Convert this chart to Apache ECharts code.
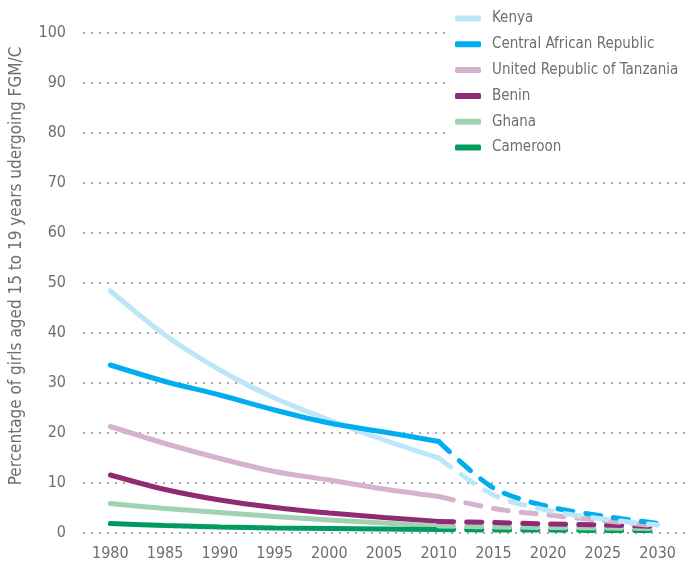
<!DOCTYPE html>
<html>
<head>
<meta charset="utf-8">
<script src="https://cdn.jsdelivr.net/npm/echarts@6/dist/echarts.min.js"></script>
<style>
  html, body { margin: 0; padding: 0; background: #fff; }
  #main { width: 688px; height: 568px; }
</style>
</head>
<body>
<div id="main"></div>
<script>
// years on the x axis
const years = ['1980', '1985', '1990', '1995', '2000', '2005', '2010', '2015', '2020', '2025', '2030']

// values, 1980-2030 (solid up to 2010, projection after)
const kenya = [48.4, 39.6, 32.6, 27, 22.6, 18.6, 15, 7.6, 4.5, 2.8, 1.6]
const car = [33.6, 30.3, 27.6, 24.6, 22, 20.2, 18.3, 9, 5.3, 3.4, 1.9]
const tanzania = [21.3, 17.9, 14.9, 12.3, 10.6, 8.8, 7.3, 4.9, 3.6, 2.5, 1.4]
const benin = [11.6, 8.7, 6.6, 5.1, 4, 3.1, 2.3, 2.1, 1.8, 1.6, 1.3]
const ghana = [5.9, 4.9, 4.1, 3.3, 2.6, 2, 1.4, 1.2, 1.1, 1, 0.9]
const cameroon = [1.9, 1.5, 1.2, 1, 0.9, 0.8, 0.7, 0.6, 0.6, 0.5, 0.5]

const countries = [
  { name: 'Kenya', data: kenya, color: '#bde6f8' },
  { name: 'Central African Republic', data: car, color: '#00aeef' },
  { name: 'United Republic of Tanzania', data: tanzania, color: '#d5b3cd' },
  { name: 'Benin', data: benin, color: '#912a75' },
  { name: 'Ghana', data: ghana, color: '#a1d1b3' },
  { name: 'Cameroon', data: cameroon, color: '#009b5f' }
]

const font = "'DejaVu Sans Condensed', 'Liberation Sans Narrow', sans-serif"
const grey = '#6d6e71'
const split = 6 // index of 2010

const series = []
countries.forEach(c => {
  series.push({
    name: c.name,
    type: 'line',
    smooth: 0.3,
    symbol: 'none',
    color: c.color,
    lineStyle: { width: 5, color: c.color, cap: 'round' },
    data: c.data.map((v, i) => (i <= split ? v : '-'))
  })
})
// projections drawn after, dashed
countries.slice().reverse().forEach(c => {
  series.push({
    name: c.name,
    type: 'line',
    smooth: 0.3,
    symbol: 'none',
    color: c.color,
    lineStyle: { width: 5, color: c.color, type: [15, 13], cap: 'round' },
    data: c.data.map((v, i) => (i >= split ? v : '-'))
  })
})

const myChart = echarts.init(document.getElementById('main'))
myChart.setOption({
  animation: false,
  textStyle: { fontFamily: font },
  grid: { left: 77, right: 3, top: 33, bottom: 35 },
  legend: {
    orient: 'vertical',
    left: 446,
    top: 7,
    padding: [4, 10, 4, 9],
    backgroundColor: '#fff',
    itemWidth: 26,
    itemHeight: 6,
    itemGap: 10.8,
    icon: 'roundRect',
    data: countries.map(c => c.name),
    textStyle: { color: grey, fontSize: 15, fontFamily: font, padding: [0, 0, 0, 6] }
  },
  xAxis: {
    type: 'category',
    boundaryGap: true,
    data: years,
    axisLine: { show: false },
    axisTick: { show: false },
    axisLabel: { color: grey, fontSize: 16, margin: 13 }
  },
  yAxis: {
    type: 'value',
    min: 0,
    max: 100,
    interval: 10,
    name: 'Percentage of girls aged 15 to 19 years udergoing FGM/C',
    nameLocation: 'middle',
    nameGap: 58,
    nameTextStyle: { color: grey, fontSize: 17, padding: [0, 0, 0, 34] },
    axisLine: { show: false },
    axisTick: { show: false },
    axisLabel: { color: grey, fontSize: 16, margin: 17 },
    splitLine: { lineStyle: { color: '#a7a9ac', width: 2, type: [2, 6] } }
  },
  series: series
})
</script>
</body>
</html>
